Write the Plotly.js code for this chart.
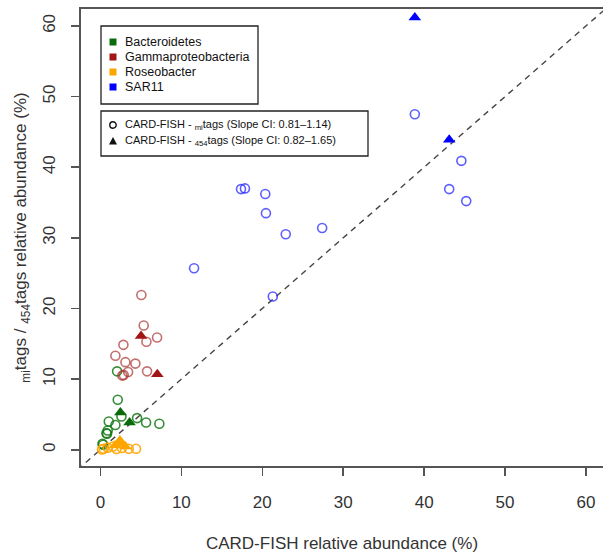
<!DOCTYPE html>
<html>
<head>
<meta charset="utf-8">
<script src="https://cdn.plot.ly/plotly-3.0.1.min.js"></script>
<style>html,body{margin:0;padding:0;background:#fff;}#chart{width:603px;height:554px;}</style>
</head>
<body>
<div id="chart"></div>
<script>
// ---- data (CARD-FISH %, tags %) ----
var bactMiX = [2.06, 2.14, 1.03, 1.85, 0.90, 0.82, 4.53, 5.64, 7.28, 2.60, 0.33, 0.74, 0.25];
var bactMiY = [11.1, 7.07, 4.0, 3.5, 2.73, 2.26, 4.48, 3.86, 3.68, 4.7, 0.7, 2.35, 0.85];
var bact454X = [2.47, 3.60];
var bact454Y = [5.28, 3.86];

var gammaMiX = [5.06, 5.35, 5.68, 7.0, 2.84, 1.85, 3.09, 4.32, 3.42, 2.88, 2.70, 5.76];
var gammaMiY = [21.9, 17.6, 15.3, 15.9, 14.85, 13.3, 12.4, 12.2, 11.0, 10.6, 10.5, 11.1];
var gamma454X = [5.02, 7.03];
var gamma454Y = [16.1, 10.7];

var roseoMiX = [0.40, 0.90, 1.57, 1.98, 2.67, 3.50, 4.40, 0.2];
var roseoMiY = [0.14, 0.30, 0.47, 0.10, 0.24, 0.14, 0.14, 0.05];
var roseo454X = [2.40, 2.67, 3.09, 1.80];
var roseo454Y = [1.30, 0.85, 0.47, 0.60];

var sarMiX = [17.37, 17.86, 20.37, 20.45, 22.9, 27.4, 11.57, 21.3, 38.85, 44.6, 43.1, 45.2];
var sarMiY = [36.9, 37.0, 36.2, 33.5, 30.5, 31.4, 25.7, 21.7, 47.5, 40.9, 36.9, 35.2];
var sar454X = [43.1, 38.85];
var sar454Y = [43.9, 61.2];

var groupNames = ["Bacteroidetes", "Gammaproteobacteria", "Roseobacter", "SAR11"];
var tickVals = [0, 10, 20, 30, 40, 50, 60];
var methodLabels = [
  "CARD-FISH - <sub>mi</sub>tags (Slope CI: 0.81\u20131.14)",
  "CARD-FISH - <sub>454</sub>tags (Slope CI: 0.82\u20131.65)"
];

// ---- styling ----
var solidCols = ["#0b6b0b", "#a31515", "#ffa500", "#0000ff"];
var openCols = ["rgba(20,120,20,0.85)", "rgba(170,50,50,0.7)", "rgba(255,165,0,0.9)", "rgba(40,40,255,0.75)"];
var FONT = "Liberation Sans, Arial, Helvetica, sans-serif";

var W = 603, H = 554, ML = 81, MR = 0, MT = 9, MB = 88;
var PW = W - ML - MR, PH = H - MT - MB;
function px(x) { return (x - ML) / PW; }
function py(y) { return (H - MB - y) / PH; }

var openSets = [[bactMiX, bactMiY], [gammaMiX, gammaMiY], [roseoMiX, roseoMiY], [sarMiX, sarMiY]];
var triSets = [[bact454X, bact454Y], [gamma454X, gamma454Y], [roseo454X, roseo454Y], [sar454X, sar454Y]];

var traces = [];
openSets.forEach(function (s, i) {
  traces.push({
    type: "scatter", mode: "markers", x: s[0], y: s[1], name: groupNames[i], showlegend: false,
    marker: { symbol: "circle-open", size: 9, color: openCols[i], line: { width: 1.6, color: openCols[i] } },
    hoverinfo: "x+y+name"
  });
});
triSets.forEach(function (s, i) {
  traces.push({
    type: "scatter", mode: "markers", x: s[0], y: s[1], name: groupNames[i] + " 454", showlegend: false,
    marker: { symbol: "triangle-up", size: 11, color: solidCols[i], line: { width: 0 } },
    hoverinfo: "x+y+name"
  });
});

var shapes = [];
var annotations = [];
// 1:1 reference line
shapes.push({ type: "line", xref: "x", yref: "y", x0: -10, y0: -10, x1: 80, y1: 80,
  line: { color: "#444", width: 1.4, dash: "6px,5px" }, layer: "below" });

// legend box 1
shapes.push({ type: "rect", xref: "paper", yref: "paper", x0: px(101), x1: px(258), y0: py(104), y1: py(26),
  line: { color: "#222", width: 1.3 }, fillcolor: "#fff" });
var rows1 = [42, 57, 72, 87];
groupNames.forEach(function (g, i) {
  shapes.push({ type: "rect", xref: "paper", yref: "paper", xsizemode: "pixel", ysizemode: "pixel",
    xanchor: px(113), yanchor: py(rows1[i]), x0: -3.5, x1: 3.5, y0: -3.5, y1: 3.5,
    line: { width: 0 }, fillcolor: solidCols[i] });
  annotations.push({ xref: "paper", yref: "paper", x: px(123), y: py(rows1[i]), xanchor: "left", yanchor: "middle",
    text: g, showarrow: false, font: { family: FONT, size: 12.5, color: "#111" } });
});

// legend box 2
shapes.push({ type: "rect", xref: "paper", yref: "paper", x0: px(101), x1: px(368), y0: py(156), y1: py(111),
  line: { color: "#222", width: 1.3 }, fillcolor: "#fff" });
var rows2 = [125, 141];
shapes.push({ type: "circle", xref: "paper", yref: "paper", xsizemode: "pixel", ysizemode: "pixel",
  xanchor: px(113), yanchor: py(rows2[0]), x0: -3.2, x1: 3.2, y0: -3.2, y1: 3.2,
  line: { width: 1.4, color: "#111" }, fillcolor: "rgba(0,0,0,0)" });
shapes.push({ type: "path", xref: "paper", yref: "paper", xsizemode: "pixel", ysizemode: "pixel",
  xanchor: px(113), yanchor: py(rows2[1]), path: "M -4,-3.5 L 4,-3.5 L 0,4 Z",
  line: { width: 0 }, fillcolor: "#111" });
methodLabels.forEach(function (t, i) {
  annotations.push({ xref: "paper", yref: "paper", x: px(123), y: py(rows2[i]), xanchor: "left", yanchor: "middle",
    text: t, showarrow: false, font: { family: FONT, size: 11, color: "#111" } });
});

var axisCommon = {
  showgrid: false, zeroline: false, showline: true, mirror: true, linecolor: "#555", linewidth: 2,
  ticks: "outside", ticklen: 8, tickwidth: 1.5, tickcolor: "#555",
  tickmode: "array", tickvals: tickVals, ticktext: tickVals.map(String),
  tickfont: { family: FONT, size: 17, color: "#333" }
};

var layout = {
  width: W, height: H, margin: { l: ML, r: MR, t: MT, b: MB, pad: 0 },
  paper_bgcolor: "#fff", plot_bgcolor: "#fff", showlegend: false,
  font: { family: FONT, color: "#333" },
  xaxis: Object.assign({}, axisCommon, {
    range: [-2.4, 62.1], ticklabelstandoff: 12,
    title: { text: "CARD-FISH relative abundance (%)", font: { family: FONT, size: 17, color: "#333" }, standoff: 26 }
  }),
  yaxis: Object.assign({}, axisCommon, {
    range: [-2.3, 62.4], tickangle: -90, ticklabelstandoff: 9,
    title: { text: "<sub>mi</sub>tags / <sub>454</sub>tags relative abundance (%)", font: { family: FONT, size: 17, color: "#333" }, standoff: 9 }
  }),
  shapes: shapes, annotations: annotations
};

Plotly.newPlot("chart", traces, layout, { displayModeBar: false, staticPlot: true });
</script>
</body>
</html>
